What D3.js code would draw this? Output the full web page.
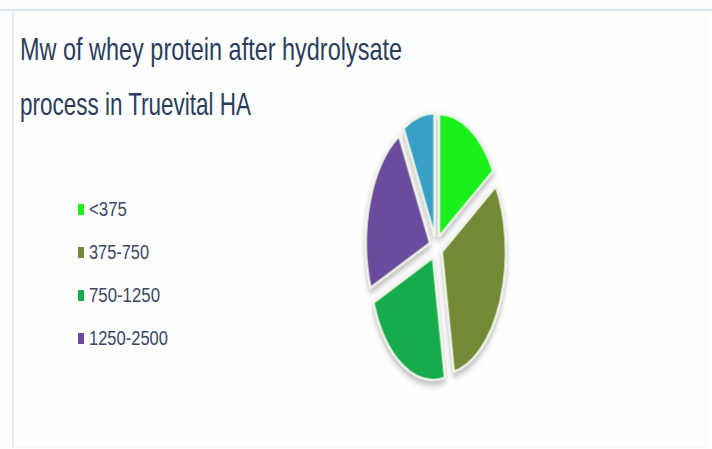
<!DOCTYPE html>
<html><head><meta charset="utf-8">
<script src="https://cdn.jsdelivr.net/npm/d3@7"></script>
<style>html,body{margin:0;padding:0;background:#fff;}svg{display:block;}</style>
</head><body>
<svg id="c" width="712" height="449"></svg>
<script>
const titleLines = ["Mw of whey protein after hydrolysate", "process in Truevital HA"];
const categories = ["<375", "375-750", "750-1250", "1250-2500", ">2500"];
const values = [16, 31, 22, 23, 8];
const legendLabels = ["<375", "375-750", "750-1250", "1250-2500"];
const colors = ["#1ef01c", "#728a35", "#17ab4c", "#6a4c9c", "#39a0c6"];

const svg = d3.select("#c");
const defs = svg.append("defs");
const f = defs.append("filter").attr("id","sh").attr("x","-30%").attr("y","-30%").attr("width","160%").attr("height","160%");
f.append("feDropShadow").attr("dx",0).attr("dy",3).attr("stdDeviation",3).attr("flood-color","#555").attr("flood-opacity",0.45);

// panel
svg.append("rect").attr("x",0).attr("y",0).attr("width",712).attr("height",449).attr("fill","#fefefe");
svg.append("line").attr("x1",0).attr("x2",712).attr("y1",10).attr("y2",10).attr("stroke","#d9e3f3").attr("stroke-width",2);
svg.append("line").attr("x1",13).attr("x2",13).attr("y1",10).attr("y2",447).attr("stroke","#dbe4f2").attr("stroke-width",1.5);
svg.append("line").attr("x1",706).attr("x2",706).attr("y1",10).attr("y2",447).attr("stroke","#f2f4f8").attr("stroke-width",1);
svg.append("line").attr("x1",13).attr("x2",706).attr("y1",447).attr("y2",447).attr("stroke","#f0f6ee").attr("stroke-width",1);

// title
const tl = [[60, 382], [115, 231]];
svg.selectAll("text.title").data(titleLines).join("text").attr("class","title")
  .attr("x",20).attr("y",(d,i)=>tl[i][0]).attr("textLength",(d,i)=>tl[i][1]).attr("lengthAdjust","spacingAndGlyphs")
  .attr("font-family","Liberation Sans, Arial, sans-serif").attr("font-size",32).attr("fill","#2a3d5c").text(d=>d);

// legend
const color = d3.scaleOrdinal().domain(categories).range(colors);
const ly = d3.scalePoint().domain(legendLabels).range([209, 338]);
const lg = svg.append("g");
const lw = {"<375":38, "375-750":60, "750-1250":71, "1250-2500":79};
lg.selectAll("rect").data(legendLabels).join("rect")
  .attr("x",78).attr("y",d=>ly(d)-5).attr("width",6).attr("height",11).attr("fill",d=>color(d));
lg.selectAll("text").data(legendLabels).join("text")
  .attr("x",89).attr("y",d=>ly(d)+7).attr("textLength",d=>lw[d]).attr("lengthAdjust","spacingAndGlyphs")
  .attr("font-family","Liberation Sans, Arial, sans-serif").attr("font-size",20).attr("fill","#3b4763").text(d=>d);

// pie (elliptical, exploded)
const R = 100, cx = 436, cy = 247, rx = 64, ry = 122, explode = 10;
const pie = d3.pie().sort(null).value(d=>d)(values);
const arc = d3.arc().innerRadius(0).outerRadius(R);
const g = svg.append("g").attr("transform",`translate(${cx},${cy}) scale(${rx/R},${ry/R})`).attr("filter","url(#sh)");
g.selectAll("path").data(pie).join("path")
  .attr("d",arc)
  .attr("transform",d=>{const a=(d.startAngle+d.endAngle)/2; return `translate(${explode*Math.sin(a)},${-explode*Math.cos(a)})`;})
  .attr("fill",(d,i)=>color(categories[i]))
  .attr("stroke","#eef6e8").attr("stroke-width",2.2).attr("vector-effect","non-scaling-stroke")
  .attr("stroke-linejoin","round");
</script>
</body></html>
